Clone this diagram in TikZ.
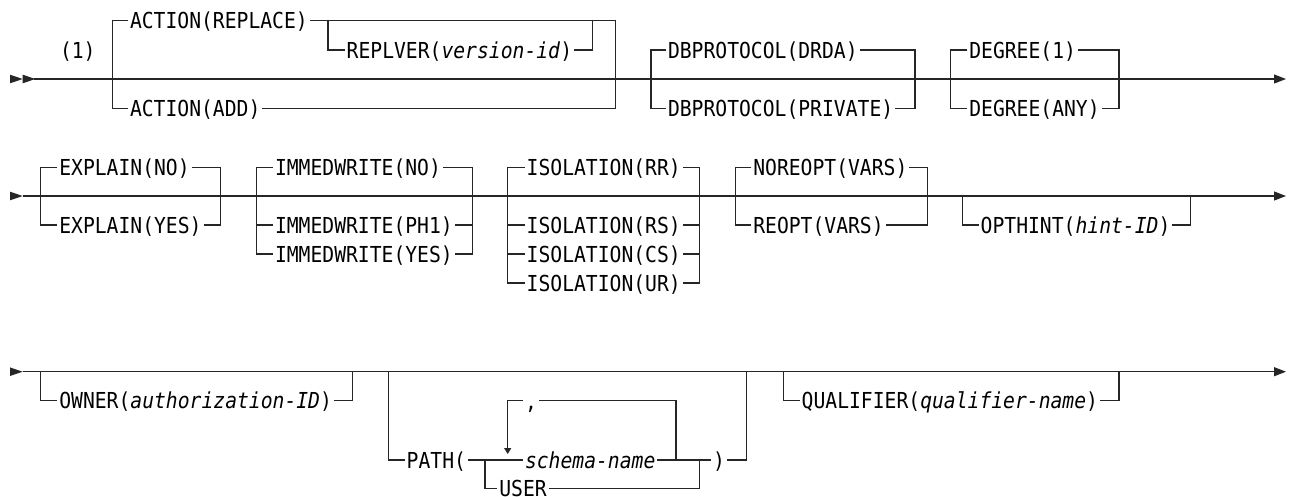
\documentclass[tikz,border=0pt]{standalone}
\usepackage{fontspec}
\usetikzlibrary{arrows.meta}
\newfontfamily\railFont[FakeStretch=0.895]{DejaVu Sans Mono}
\newcommand{\railSize}{\fontsize{22}{24}\selectfont}
\newcommand{\railStart}[2]{\fill[black!85] (#1,#2-4.3) -- (#1+12.7,#2) -- (#1,#2+4.3) -- cycle;}
\newcommand{\rowOne}{79}
\newcommand{\rowTwo}{196}
\newcommand{\rowThree}{371.7}

\begin{document}
\begin{tikzpicture}[x=1pt, y=-1pt,
    rail/.style={line width=1.2pt, draw=black!85},
    railend/.style={-{Triangle[length=12pt,width=9pt]}},
    loopdown/.style={-{Triangle[length=6pt,width=7pt]}},
    kw/.style={anchor=west, inner xsep=2pt, inner ysep=0pt, outer sep=0pt,
               text height=16pt, text depth=0pt, font=\railFont\railSize},
    sepkw/.style={kw, text height=17pt}]
\useasboundingbox (0,0) rectangle (1293,496);

% first line
\railStart{10}{\rowOne}
\railStart{22.7}{\rowOne}
\coordinate (r1s) at (34,\rowOne);
\coordinate (r1e) at (1286,\rowOne);
\draw[rail,railend] (r1s) -- (r1e);
\node[kw] (note) at (58,50) {(1)};
% ACTION
\coordinate (actL) at (112.3,\rowOne);
\coordinate (actR) at (615.3,\rowOne);
\node[kw] (actrep) at (128,20.7) {ACTION(REPLACE)};
\node[kw] (actadd) at (128,108.3) {ACTION(ADD)};
\draw[rail] (actrep.west) -| (actL) |- (actadd.west);
\draw[rail] (actrep.east) -| (actR) |- (actadd.east);
\coordinate (rvL) at (328,20.7);
\coordinate (rvR) at (592.3,20.7);
\node[kw] (replver) at (344.7,50) {REPLVER(\textit{version-id})};
\draw[rail] (rvL) |- (replver.west);
\draw[rail] (replver.east) -| (rvR);
% DBPROTOCOL
\coordinate (dbL) at (651,\rowOne);
\coordinate (dbR) at (915,\rowOne);
\node[kw] (dbdrda) at (666,50) {DBPROTOCOL(DRDA)};
\node[kw] (dbpriv) at (666,108.3) {DBPROTOCOL(PRIVATE)};
\draw[rail] (dbdrda.west) -| (dbL) |- (dbpriv.west);
\draw[rail] (dbdrda.east) -| (dbR) |- (dbpriv.east);
% DEGREE
\coordinate (degL) at (950.7,\rowOne);
\coordinate (degR) at (1119,\rowOne);
\node[kw] (degone) at (967.3,50) {DEGREE(1)};
\node[kw] (degany) at (967.3,108.3) {DEGREE(ANY)};
\draw[rail] (degone.west) -| (degL) |- (degany.west);
\draw[rail] (degone.east) -| (degR) |- (degany.east);

% second line
\railStart{10}{\rowTwo}
\coordinate (r2s) at (22.7,\rowTwo);
\coordinate (r2e) at (1286,\rowTwo);
\draw[rail,railend] (r2s) -- (r2e);
% EXPLAIN
\coordinate (exL) at (40.7,\rowTwo);
\coordinate (exR) at (220.7,\rowTwo);
\node[kw] (expno) at (57.3,167.3) {EXPLAIN(NO)};
\node[kw] (expyes) at (57.3,225) {EXPLAIN(YES)};
\draw[rail] (expno.west) -| (exL) |- (expyes.west);
\draw[rail] (expno.east) -| (exR) |- (expyes.east);
% IMMEDWRITE
\coordinate (imL) at (256.7,\rowTwo);
\coordinate (imR) at (472.3,\rowTwo);
\node[kw] (imno) at (273,167.3) {IMMEDWRITE(NO)};
\node[kw] (imph) at (273,225) {IMMEDWRITE(PH1)};
\node[kw] (imyes) at (273,254) {IMMEDWRITE(YES)};
\draw[rail] (imno.west) -| (imL) |- (imyes.west);
\draw[rail] (imno.east) -| (imR) |- (imyes.east);
\draw[rail] (imL |- imph.west) -- (imph.west);
\draw[rail] (imph.east) -- (imR |- imph.east);
% ISOLATION
\coordinate (isoL) at (507.7,\rowTwo);
\coordinate (isoR) at (699.3,\rowTwo);
\node[kw] (isorr) at (524.7,167.3) {ISOLATION(RR)};
\node[kw] (isors) at (524.7,225) {ISOLATION(RS)};
\node[kw] (isocs) at (524.7,254) {ISOLATION(CS)};
\node[kw] (isour) at (524.7,283) {ISOLATION(UR)};
\draw[rail] (isorr.west) -| (isoL) |- (isour.west);
\draw[rail] (isorr.east) -| (isoR) |- (isour.east);
\draw[rail] (isoL |- isors.west) -- (isors.west);
\draw[rail] (isors.east) -- (isoR |- isors.east);
\draw[rail] (isoL |- isocs.west) -- (isocs.west);
\draw[rail] (isocs.east) -- (isoR |- isocs.east);
% REOPT
\coordinate (reL) at (735.7,\rowTwo);
\coordinate (reR) at (927.3,\rowTwo);
\node[kw] (noreopt) at (751.3,167.3) {NOREOPT(VARS)};
\node[kw] (reopt) at (751.3,225) {REOPT(VARS)};
\draw[rail] (noreopt.west) -| (reL) |- (reopt.west);
\draw[rail] (noreopt.east) -| (reR) |- (reopt.east);
% OPTHINT
\coordinate (ohL) at (962.7,\rowTwo);
\coordinate (ohR) at (1190.7,\rowTwo);
\node[kw] (opthint) at (978.7,225) {OPTHINT(\textit{hint-ID})};
\draw[rail] (ohL) |- (opthint.west);
\draw[rail] (opthint.east) -| (ohR);

% third line
\railStart{10}{\rowThree}
\coordinate (r3s) at (22.7,\rowThree);
\coordinate (r3e) at (1286,\rowThree);
\draw[rail,railend] (r3s) -- (r3e);
% OWNER
\coordinate (owL) at (40.7,\rowThree);
\coordinate (owR) at (352.3,\rowThree);
\node[kw] (owner) at (57.3,400.7) {OWNER(\textit{authorization-ID})};
\draw[rail] (owL) |- (owner.west);
\draw[rail] (owner.east) -| (owR);
% PATH
\coordinate (paL) at (388.3,\rowThree);
\coordinate (paR) at (746.7,\rowThree);
\coordinate (spL) at (485,460);
\coordinate (spR) at (699.3,460);
\coordinate (lpR) at (676,460);
\coordinate (lpB) at (507.7,454);
\node[kw] (pathkw) at (404.7,460) {PATH(};
\node[kw] (schema) at (523,460) {\textit{schema-name}};
\node[kw] (user) at (497.3,488.3) {USER};
\node[kw] (pclose) at (711,460) {)};
\node[sepkw] (comma) at (523,400.7) {,};
\draw[rail] (paL) |- (pathkw.west);
\draw[rail] (pathkw.east) -- (schema.west);
\draw[rail] (spL) |- (user.west);
\draw[rail] (schema.east) -- (spR) -- (pclose.west);
\draw[rail] (user.east) -| (spR);
\draw[rail] (pclose.east) -| (paR);
\draw[rail] (lpR) |- (comma.east);
\draw[rail,loopdown] (comma.west) -| (lpB);
% QUALIFIER
\coordinate (quL) at (783.3,\rowThree);
\coordinate (quR) at (1119,\rowThree);
\node[kw] (qualifier) at (799.7,400.7) {QUALIFIER(\textit{qualifier-name})};
\draw[rail] (quL) |- (qualifier.west);
\draw[rail] (qualifier.east) -| (quR);
\end{tikzpicture}
\end{document}
